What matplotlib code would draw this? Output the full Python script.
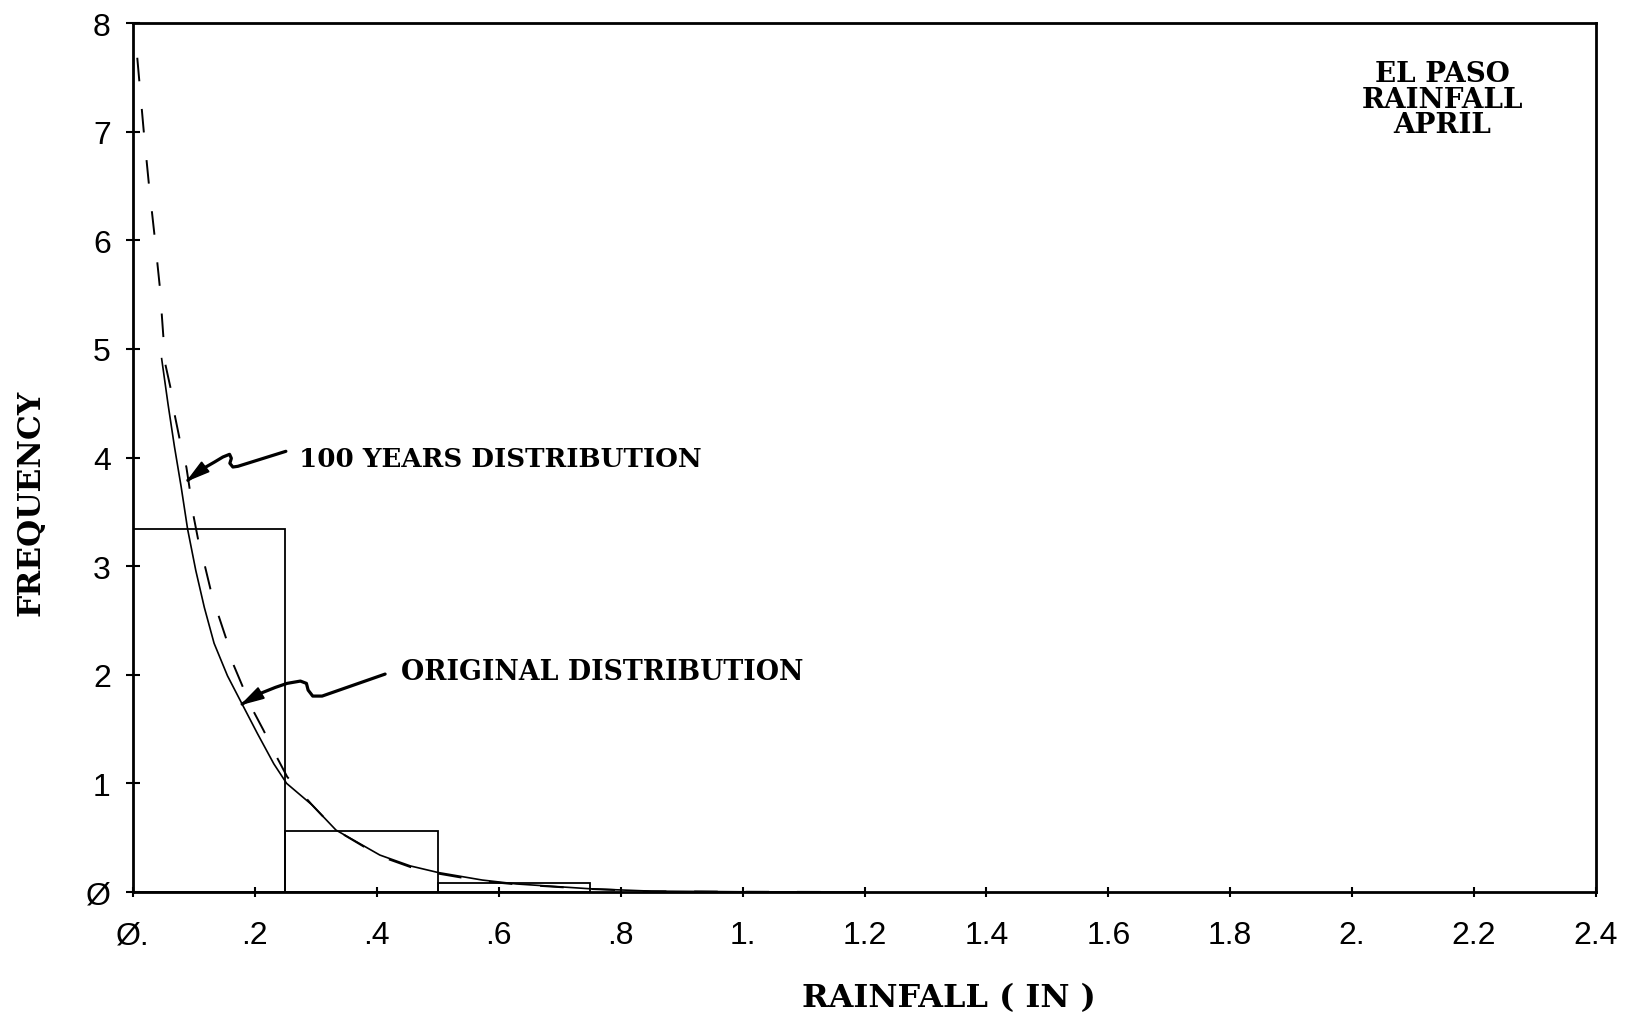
import matplotlib
matplotlib.use("Agg")
import matplotlib.pyplot as plt
import matplotlib.transforms as mtransforms
from matplotlib.patches import Polygon
import numpy as np

plt.rcParams["lines.scale_dashes"] = False

W, H = 1627, 1020

# ---------- data ----------
# histogram of April rainfall (density, 0.25 in bins)
bin_edges = [0.0, 0.25, 0.50, 0.75]
bin_heights = [3.34, 0.56, 0.08]

# fitted density of the original record
orig_x = [0.047, 0.0575, 0.068, 0.079, 0.0896, 0.103, 0.117, 0.133, 0.155,
          0.179, 0.204, 0.231, 0.252, 0.294, 0.333, 0.405, 0.455, 0.500,
          0.573, 0.629, 0.749, 0.850, 1.000, 1.200]
orig_y = [4.91, 4.49, 4.10, 3.73, 3.34, 2.96, 2.62, 2.29, 1.99,
          1.73, 1.46, 1.18, 1.00, 0.80, 0.57, 0.34, 0.24, 0.18,
          0.11, 0.074, 0.030, 0.008, 0.002, 0.0]

# density of the 100-year generated series
gen_x = [0.007, 0.018, 0.026, 0.035, 0.044, 0.053, 0.062, 0.0685, 0.0765,
         0.0876, 0.093, 0.0997, 0.107, 0.118, 0.127, 0.140, 0.153, 0.165,
         0.180, 0.198, 0.214, 0.237, 0.253, 0.294, 0.333, 0.405, 0.455,
         0.500, 0.573, 0.629, 0.749, 0.850, 1.000, 1.200]
gen_y = [7.68, 6.98, 6.52, 6.06, 5.57, 4.86, 4.63, 4.39, 4.17,
         3.91, 3.71, 3.45, 3.24, 3.00, 2.79, 2.55, 2.33, 2.09,
         1.89, 1.66, 1.49, 1.23, 1.06, 0.80, 0.57, 0.33, 0.23,
         0.17, 0.10, 0.07, 0.028, 0.006, 0.002, 0.0]

x_ticks = [0.0, 0.2, 0.4, 0.6, 0.8, 1.0, 1.2, 1.4, 1.6, 1.8, 2.0, 2.2, 2.4]
x_tick_labels = ["Ø.", ".2", ".4", ".6", ".8", "1.", "1.2", "1.4", "1.6",
                 "1.8", "2.", "2.2", "2.4"]
y_ticks = [0, 1, 2, 3, 4, 5, 6, 7, 8]
y_tick_labels = ["Ø", "1", "2", "3", "4", "5", "6", "7", "8"]

TICK_FONT = ["Liberation Sans", "DejaVu Sans"]
TEXT_FONT = ["DejaVu Serif"]

fig = plt.figure(figsize=(W / 100, H / 100), dpi=100)
ax = fig.add_axes([133 / W, 1 - 893 / H, 1463 / W, 869 / H])

# histogram outline
ax.bar(bin_edges[:-1], bin_heights, width=np.diff(bin_edges), align="edge",
       fill=False, edgecolor="black", linewidth=1.3)

ax.plot(orig_x, orig_y, color="black", lw=1.2)
ax.plot(gen_x, gen_y, color="black", lw=1.4, linestyle=(0, (17, 20)))

ax.set_xlim(0, 2.4)
ax.set_ylim(0, 8)
ax.set_xticks(x_ticks)
ax.set_xticklabels(x_tick_labels)
ax.set_yticks(y_ticks)
ax.set_yticklabels(y_tick_labels)
for sp in ax.spines.values():
    sp.set_linewidth(2.0)
ax.tick_params(axis="y", direction="inout", length=10, width=1.5, pad=11,
               labelsize=23)
ax.tick_params(axis="x", direction="inout", length=7, width=1.5, pad=17,
               labelsize=23)
for lab in ax.get_xticklabels() + ax.get_yticklabels():
    lab.set_family(TICK_FONT)

# axis titles
fig.text(949 / W, 1 - 999 / H, "RAINFALL ( IN )", ha="center", va="center",
         family=TEXT_FONT, fontsize=23, fontweight="bold")
fig.text(31 / W, 1 - 503 / H, "FREQUENCY", ha="center", va="center",
         rotation=90, family=TEXT_FONT, fontsize=22.5, fontweight="bold")

ax.text(0.895, 0.9125, "EL PASO\nRAINFALL\nAPRIL", transform=ax.transAxes,
        ha="center", va="center", multialignment="center", linespacing=0.95,
        family=TEXT_FONT, fontsize=20, fontweight="bold")


def squiggle_arrow(tip, pts, label, label_xy, size):
    """Hand-drawn style leader: filled head at tip, wavy shaft in pixels."""
    tx, ty = ax.transData.transform(tip)
    tr = mtransforms.Affine2D().translate(tx, ty)
    xs = [p[0] for p in pts]
    ys = [p[1] for p in pts]
    fig.add_artist(plt.Line2D(xs, ys, transform=tr, color="black", lw=2.3,
                              solid_joinstyle="round", solid_capstyle="round"))
    # arrow head along the first shaft segment
    d = np.array(pts[1], float)
    d /= np.hypot(*d)
    n = np.array([-d[1], d[0]])
    base = d * 22
    head = [(0, 0), tuple(base + n * 6), tuple(base - n * 6)]
    fig.add_artist(Polygon(head, closed=True, transform=tr, color="black"))
    ax.text(label_xy[0], label_xy[1], label, ha="left", va="center",
            family=TEXT_FONT, fontsize=size, fontweight="bold")


squiggle_arrow((0.090, 3.79),
               [(0, 0), (15, 11.6), (26.7, 18.3), (35, 23.3), (41.7, 26),
                (43.5, 22), (42, 17), (45, 13.3), (50, 14), (98, 29)],
               "100 YEARS DISTRIBUTION", (0.272, 3.99), 18.8)
squiggle_arrow((0.179, 1.73),
               [(0, 0), (18.3, 10.7), (33.3, 16.7), (45, 20.7), (58.3, 23),
                (64.3, 20.7), (66, 14), (70.6, 8), (80, 8), (143, 30)],
               "ORIGINAL DISTRIBUTION", (0.44, 2.03), 19.3)

fig.savefig("out.png", dpi=100)
